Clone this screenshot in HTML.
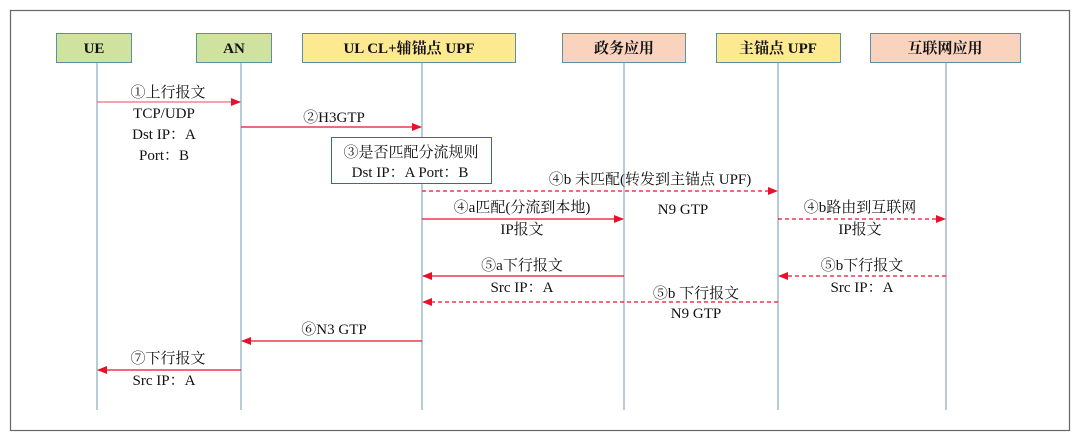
<!DOCTYPE html>
<html><head><meta charset="utf-8"><style>
html,body{margin:0;padding:0;background:#fff;}
svg text{font-family:"Liberation Serif","Noto Serif CJK SC",serif;font-size:15px;fill:#111;text-anchor:middle;}
</style></head><body>
<svg width="1080" height="443" viewBox="0 0 1080 443" xmlns="http://www.w3.org/2000/svg">
<defs>
<marker id="ah" markerWidth="10" markerHeight="8" refX="9" refY="4" orient="auto" markerUnits="userSpaceOnUse">
<path d="M0,0 L10,4 L0,8 z" fill="#e8102a"/></marker>
</defs>
<rect x="10.5" y="10.5" width="1059" height="420" fill="none" stroke="#666" stroke-width="1.2"/>
<g stroke="#8fb0c0" stroke-width="1.3">
<line x1="97" y1="62" x2="97" y2="410"/>
<line x1="241" y1="62" x2="241" y2="410"/>
<line x1="422" y1="62" x2="422" y2="410"/>
<line x1="624" y1="62" x2="624" y2="410"/>
<line x1="778" y1="62" x2="778" y2="410"/>
<line x1="946" y1="62" x2="946" y2="410"/>
</g>
<g stroke="#5b8fa3" stroke-width="1">
<rect x="56.5" y="33.5" width="75" height="29" fill="#cfe29e"/>
<rect x="196.5" y="33.5" width="75" height="29" fill="#cfe29e"/>
<rect x="302.5" y="33.5" width="213" height="29" fill="#fde98f"/>
<rect x="562.5" y="33.5" width="123" height="29" fill="#f9d3bd"/>
<rect x="716.5" y="33.5" width="124" height="29" fill="#fde98f"/>
<rect x="870.5" y="33.5" width="150" height="29" fill="#f9d3bd"/>
</g>
<g style="font-weight:bold">
<text x="94" y="53">UE</text>
<text x="234" y="53">AN</text>
<text x="409" y="53">UL CL+辅锚点 UPF</text>
<text x="624" y="53">政务应用</text>
<text x="778" y="53">主锚点 UPF</text>
<text x="945" y="53">互联网应用</text>
</g>
<rect x="331.5" y="137.5" width="160" height="46" fill="#fff" stroke="#2e6da4" stroke-width="1"/>
<g stroke="#e8102a" stroke-width="1.3" fill="none">
<line x1="97" y1="102" x2="240" y2="102" marker-end="url(#ah)" stroke="#ee6e80"/>
<line x1="241" y1="127" x2="421" y2="127" marker-end="url(#ah)"/>
<line x1="422" y1="191" x2="777" y2="191" stroke-dasharray="4,3" marker-end="url(#ah)"/>
<line x1="422" y1="219" x2="623" y2="219" marker-end="url(#ah)"/>
<line x1="778" y1="219" x2="945" y2="219" stroke-dasharray="4,3" marker-end="url(#ah)"/>
<line x1="624" y1="276" x2="423" y2="276" marker-end="url(#ah)"/>
<line x1="946" y1="276" x2="779" y2="276" stroke-dasharray="4,3" marker-end="url(#ah)"/>
<line x1="778" y1="302" x2="423" y2="302" stroke-dasharray="4,3" marker-end="url(#ah)"/>
<line x1="422" y1="341" x2="242" y2="341" marker-end="url(#ah)"/>
<line x1="241" y1="370" x2="98" y2="370" marker-end="url(#ah)"/>
</g>
<text x="168" y="97">①上行报文</text>
<text x="164" y="118">TCP/UDP</text>
<text x="164" y="139">Dst IP：A</text>
<text x="164" y="160">Port：B</text>
<text x="334" y="122">②H3GTP</text>
<text x="411" y="157">③是否匹配分流规则</text>
<text x="410" y="177">Dst IP：A Port：B</text>
<text x="650" y="184">④b 未匹配(转发到主锚点 UPF)</text>
<text x="522" y="212">④a匹配(分流到本地)</text>
<text x="522" y="234">IP报文</text>
<text x="683" y="214">N9 GTP</text>
<text x="860" y="212">④b路由到互联网</text>
<text x="860" y="234">IP报文</text>
<text x="522" y="270">⑤a下行报文</text>
<text x="522" y="292">Src IP：A</text>
<text x="862" y="270">⑤b下行报文</text>
<text x="862" y="292">Src IP：A</text>
<text x="696" y="298">⑤b 下行报文</text>
<text x="696" y="318">N9 GTP</text>
<text x="334" y="334">⑥N3 GTP</text>
<text x="168" y="363">⑦下行报文</text>
<text x="164" y="385">Src IP：A</text>
</svg>
</body></html>
